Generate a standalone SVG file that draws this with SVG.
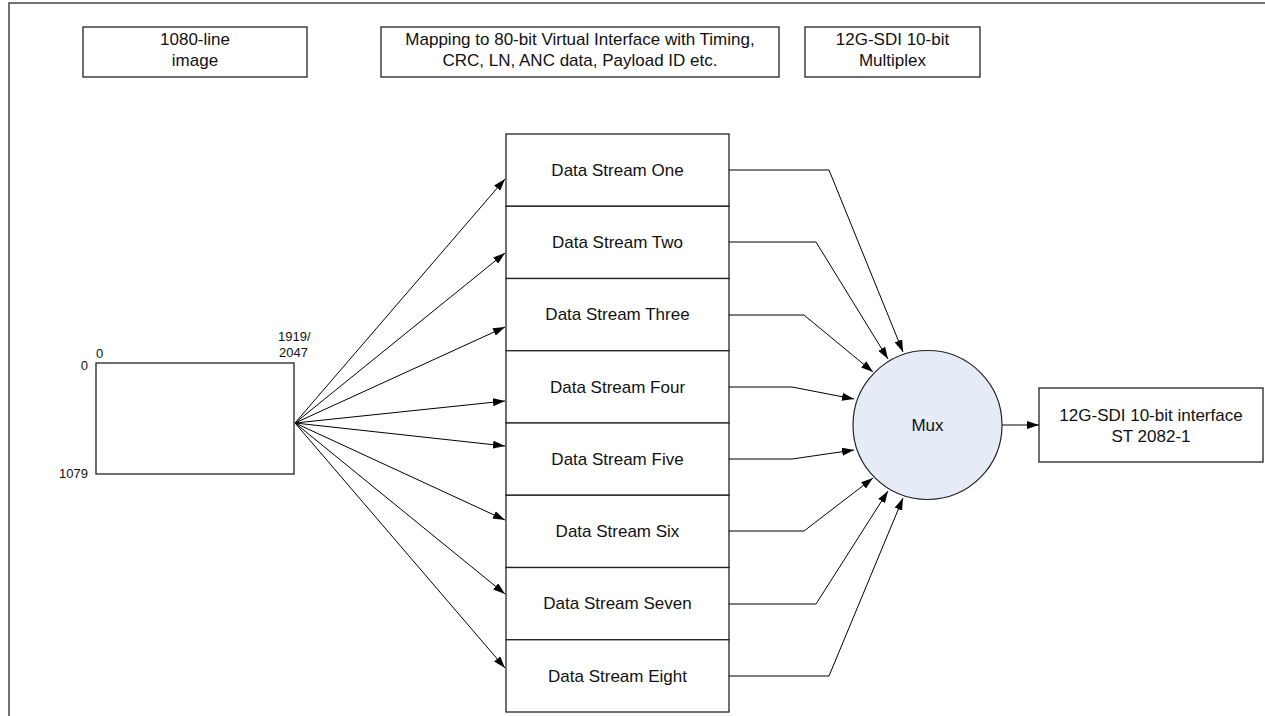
<svg xmlns="http://www.w3.org/2000/svg" width="1265" height="716" viewBox="0 0 1265 716">
<defs>
<style>
.box{fill:#fff;stroke:#222;stroke-width:1.3}
.t{font-family:"Liberation Sans",Arial,sans-serif;font-size:17px;fill:#111;text-anchor:middle}
.s{font-family:"Liberation Sans",Arial,sans-serif;font-size:13px;fill:#111}
.c{fill:none;stroke:#000;stroke-width:1;marker-end:url(#ah)}
</style>
<marker id="ah" viewBox="0 0 12 8" refX="12" refY="4" markerWidth="12" markerHeight="8" markerUnits="userSpaceOnUse" orient="auto">
<path d="M0,0 L12,4 L0,8 z" fill="#000"/>
</marker>
</defs>
<rect width="1265" height="716" fill="#fff"/>
<path d="M9,716 V3 H1265" fill="none" stroke="#444" stroke-width="1.5"/>

<g id="hdr-image"><rect class="box" x="83" y="27" width="224" height="50"/><text class="t" x="195" y="44.5">1080-line</text><text class="t" x="195" y="66">image</text></g>
<g id="hdr-mapping"><rect class="box" x="381" y="27" width="398" height="50"/><text class="t" x="580" y="44.5">Mapping to 80-bit Virtual Interface with Timing,</text><text class="t" x="580" y="66">CRC, LN, ANC data, Payload ID etc.</text></g>
<g id="hdr-mux"><rect class="box" x="805" y="27" width="175" height="50"/><text class="t" x="892.5" y="44.5">12G-SDI 10-bit</text><text class="t" x="892.5" y="66">Multiplex</text></g>

<g id="image">
<rect class="box" x="96" y="363" width="198" height="111"/>
<text class="s" x="96" y="357.5">0</text>
<text class="s" x="88" y="369.5" text-anchor="end">0</text>
<text class="s" x="88" y="478" text-anchor="end">1079</text>
<text class="s" x="278" y="340.5">1919/</text>
<text class="s" x="279" y="356.5">2047</text>
</g>

<g id="ds1"><rect class="box" x="506" y="134" width="223" height="72.25"/><text class="t" x="617.5" y="176">Data Stream One</text></g>
<g id="ds2"><rect class="box" x="506" y="206.25" width="223" height="72.25"/><text class="t" x="617.5" y="248">Data Stream Two</text></g>
<g id="ds3"><rect class="box" x="506" y="278.5" width="223" height="72.25"/><text class="t" x="617.5" y="320">Data Stream Three</text></g>
<g id="ds4"><rect class="box" x="506" y="350.75" width="223" height="72.25"/><text class="t" x="617.5" y="393">Data Stream Four</text></g>
<g id="ds5"><rect class="box" x="506" y="423" width="223" height="72.25"/><text class="t" x="617.5" y="465">Data Stream Five</text></g>
<g id="ds6"><rect class="box" x="506" y="495.25" width="223" height="72.25"/><text class="t" x="617.5" y="537">Data Stream Six</text></g>
<g id="ds7"><rect class="box" x="506" y="567.5" width="223" height="72.25"/><text class="t" x="617.5" y="609">Data Stream Seven</text></g>
<g id="ds8"><rect class="box" x="506" y="639.75" width="223" height="72.25"/><text class="t" x="617.5" y="682">Data Stream Eight</text></g>

<g id="mux"><circle cx="927.5" cy="425" r="74.5" fill="#E6ECF7" stroke="#222" stroke-width="1.2"/><text class="t" x="927.5" y="431">Mux</text></g>

<g id="out"><rect class="box" x="1039" y="388" width="224" height="74"/><text class="t" x="1151" y="420.5">12G-SDI 10-bit interface</text><text class="t" x="1151" y="441.5">ST 2082-1</text></g>

<g id="connectors">
<path class="c" d="M295,423 L505,179"/>
<path class="c" d="M295,423 L505,253"/>
<path class="c" d="M295,423 L505,327"/>
<path class="c" d="M295,423 L505,401"/>
<path class="c" d="M295,423 L505,446"/>
<path class="c" d="M295,423 L505,520"/>
<path class="c" d="M295,423 L505,594"/>
<path class="c" d="M295,423 L505,668"/>
<path class="c" d="M729,170 H829 L903,352"/>
<path class="c" d="M729,242 H816 L888,359"/>
<path class="c" d="M729,315 H804 L873,372"/>
<path class="c" d="M729,387 H792 L854,399"/>
<path class="c" d="M729,459 H792 L854,450"/>
<path class="c" d="M729,531 H804 L873,478"/>
<path class="c" d="M729,604 H816 L888,491"/>
<path class="c" d="M729,676 H829 L903,498"/>
<path class="c" d="M1002,425 H1039"/>
</g>
</svg>
